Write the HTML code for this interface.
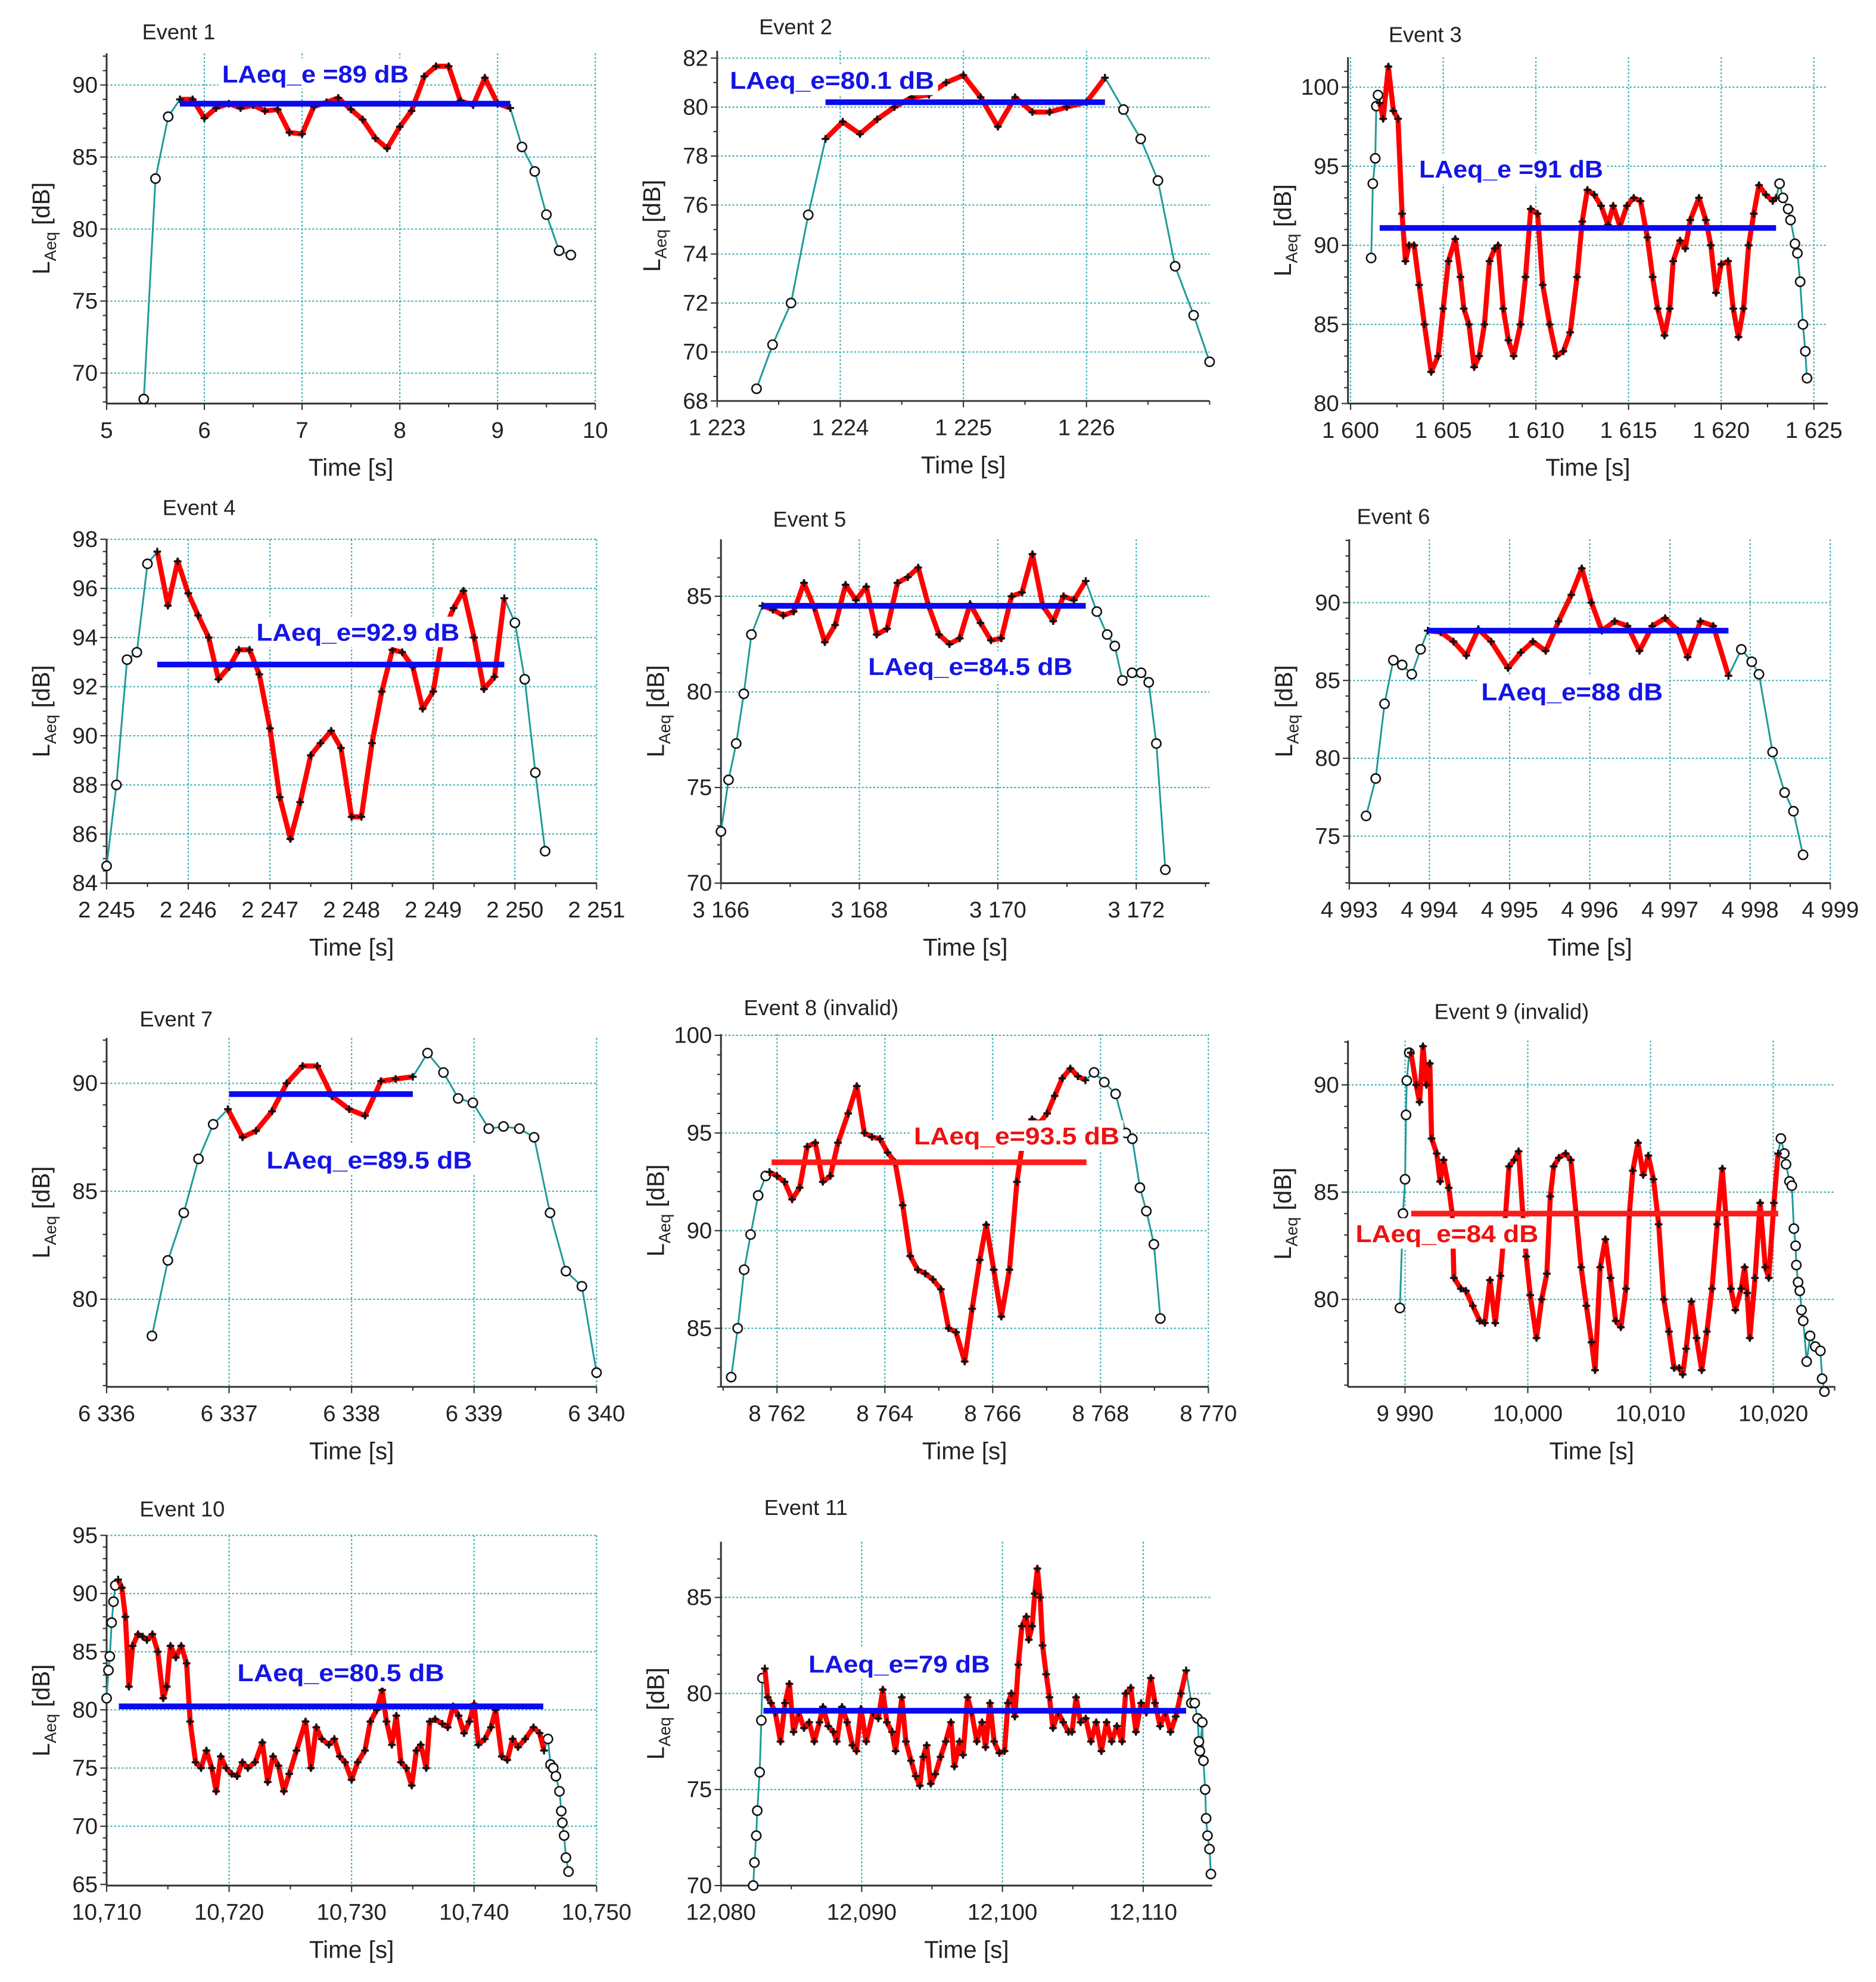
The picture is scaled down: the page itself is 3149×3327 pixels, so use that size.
<!DOCTYPE html>
<html><head><meta charset="utf-8"><style>
html,body{margin:0;padding:0;background:#fff;}
svg{display:block;font-family:"Liberation Sans",Arial,sans-serif;}
</style></head><body>
<svg id="fig" xmlns="http://www.w3.org/2000/svg" width="3149" height="3327" viewBox="0 0 1478 1562" preserveAspectRatio="none">
<rect width="1478" height="1562" fill="#fff"/>
</svg>
<script>
// ---------- DATA ----------
const e1Time=[5.38,5.5,5.63,5.75,5.88,6.0,6.12,6.25,6.37,6.5,6.62,6.75,6.87,7.0,7.12,7.25,7.37,7.5,7.62,7.75,7.87,8.0,8.12,8.25,8.37,8.5,8.62,8.75,8.87,9.0,9.13,9.25,9.38,9.5,9.63,9.75];
const e1Level=[68.2,83.5,87.8,89,89,87.7,88.4,88.7,88.4,88.6,88.2,88.3,86.7,86.6,88.5,88.8,89.1,88.3,87.6,86.3,85.6,87.1,88.2,90.6,91.3,91.3,88.9,88.6,90.5,88.7,88.4,85.7,84,81,78.5,78.2];
const e1Red=[5.75,9.13], e1Leq=[88.7,5.75,9.13];
const e1XTicks=[5,6,7,8,9,10], e1XLabels=["5","6","7","8","9","10"];
const e1YTicks=[70,75,80,85,90];

const e2Time=[1223.32,1223.45,1223.6,1223.74,1223.88,1224.02,1224.16,1224.3,1224.44,1224.58,1224.72,1224.86,1225.0,1225.14,1225.28,1225.42,1225.56,1225.7,1225.84,1226.0,1226.15,1226.3,1226.44,1226.58,1226.72,1226.87,1227.0];
const e2Level=[68.5,70.3,72,75.6,78.7,79.4,78.9,79.5,80,80.4,80.5,81,81.3,80.4,79.2,80.4,79.8,79.8,80,80.2,81.2,79.9,78.7,77,73.5,71.5,69.6];
const e2Red=[1223.88,1226.15], e2Leq=[80.2,1223.88,1226.15];
const e2XTicks=[1223,1224,1225,1226], e2XLabels=["1 223","1 224","1 225","1 226"];
const e2YTicks=[68,70,72,74,76,78,80,82];

const e3Time=[1601.11,1601.2,1601.33,1601.39,1601.48,1601.57,1601.76,1602.04,1602.31,1602.56,1602.78,1602.96,1603.15,1603.43,1603.7,1603.98,1604.35,1604.72,1605.0,1605.28,1605.65,1605.93,1606.11,1606.39,1606.67,1606.94,1607.22,1607.5,1607.78,1607.96,1608.24,1608.52,1608.8,1609.17,1609.44,1609.72,1610.09,1610.37,1610.74,1611.11,1611.48,1611.85,1612.22,1612.5,1612.78,1613.15,1613.52,1613.89,1614.17,1614.54,1614.91,1615.28,1615.65,1616.02,1616.3,1616.57,1616.94,1617.22,1617.41,1617.78,1618.06,1618.33,1618.8,1619.17,1619.44,1619.72,1620.0,1620.37,1620.65,1620.93,1621.2,1621.48,1621.76,1622.04,1622.41,1622.78,1622.96,1623.15,1623.33,1623.61,1623.74,1623.98,1624.11,1624.26,1624.41,1624.54,1624.63];
const e3Level=[89.2,93.9,95.5,98.8,99.5,99,98,101.3,98.5,98,92,89,90,90,87.5,85,82,83,86,89,90.4,88,86,85,82.3,83,85,89,89.8,90,86,84,83,85,88,92.3,92,87.5,85,83,83.3,84.5,88,91.5,93.5,93.2,92.5,91.3,92.5,91.2,92.5,93,92.8,90.5,88,86,84.3,86,89,90.3,89.8,91.6,93,91.6,90,87,88.8,89,86,84.2,86,90,92,93.8,93.2,92.8,93,93.9,93,92.3,91.6,90.1,89.5,87.7,85,83.3,81.6];
const e3Red=[1601.57,1622.96], e3Leq=[91.1,1601.57,1622.96];
const e3XTicks=[1600,1605,1610,1615,1620,1625], e3XLabels=["1 600","1 605","1 610","1 615","1 620","1 625"];
const e3YTicks=[80,85,90,95,100];

const e4Time=[2245.0,2245.12,2245.25,2245.37,2245.5,2245.62,2245.75,2245.87,2246.0,2246.12,2246.25,2246.37,2246.5,2246.62,2246.75,2246.87,2247.0,2247.12,2247.25,2247.37,2247.5,2247.62,2247.75,2247.87,2248.0,2248.12,2248.25,2248.37,2248.5,2248.62,2248.75,2248.87,2249.0,2249.12,2249.25,2249.37,2249.5,2249.62,2249.75,2249.87,2250.0,2250.12,2250.25,2250.37];
const e4Level=[84.7,88,93.1,93.4,97,97.5,95.3,97.1,95.8,94.9,94,92.3,92.8,93.5,93.5,92.5,90.3,87.5,85.8,87.3,89.2,89.7,90.2,89.5,86.7,86.7,89.7,91.8,93.5,93.4,92.8,91.1,91.8,94.2,95.2,95.9,94,91.9,92.4,95.6,94.6,92.3,88.5,85.3];
const e4Red=[2245.62,2249.87], e4Leq=[92.9,2245.62,2249.87];
const e4XTicks=[2245,2246,2247,2248,2249,2250,2251], e4XLabels=["2 245","2 246","2 247","2 248","2 249","2 250","2 251"];
const e4YTicks=[84,86,88,90,92,94,96,98];

const e5Time=[3166.0,3166.11,3166.22,3166.33,3166.44,3166.6,3166.75,3166.9,3167.05,3167.2,3167.35,3167.5,3167.65,3167.8,3167.95,3168.1,3168.25,3168.4,3168.55,3168.7,3168.85,3169.0,3169.15,3169.3,3169.45,3169.6,3169.75,3169.9,3170.05,3170.2,3170.35,3170.5,3170.65,3170.8,3170.95,3171.1,3171.27,3171.43,3171.58,3171.69,3171.8,3171.94,3172.07,3172.18,3172.29,3172.42];
const e5Level=[72.7,75.4,77.3,79.9,83,84.5,84.3,84,84.2,85.7,84.4,82.6,83.5,85.6,84.8,85.5,83,83.3,85.7,86,86.5,84.5,83,82.5,82.8,84.6,83.6,82.7,82.8,85,85.2,87.2,84.5,83.7,85,84.8,85.8,84.2,83,82.4,80.6,81,81,80.5,77.3,70.7];
const e5Red=[3166.6,3171.27], e5Leq=[84.5,3166.6,3171.27];
const e5XTicks=[3166,3168,3170,3172], e5XLabels=["3 166","3 168","3 170","3 172"];
const e5YTicks=[70,75,80,85];

const e6Time=[4993.21,4993.33,4993.44,4993.55,4993.66,4993.78,4993.89,4993.98,4994.14,4994.3,4994.46,4994.61,4994.77,4994.98,4995.14,4995.29,4995.45,4995.61,4995.77,4995.9,4996.02,4996.15,4996.31,4996.47,4996.62,4996.78,4996.94,4997.1,4997.22,4997.38,4997.54,4997.73,4997.89,4998.02,4998.11,4998.28,4998.43,4998.54,4998.66];
const e6Level=[76.3,78.7,83.5,86.3,86,85.4,87,88.2,88.1,87.5,86.6,88.3,87.5,85.8,86.8,87.5,86.9,88.8,90.5,92.2,90,88.2,88.8,88.5,86.9,88.5,89,88.2,86.5,88.8,88.5,85.3,87,86.2,85.4,80.4,77.8,76.6,73.8];
const e6Red=[4993.98,4997.73], e6Leq=[88.2,4993.98,4997.73];
const e6XTicks=[4993,4994,4995,4996,4997,4998,4999], e6XLabels=["4 993","4 994","4 995","4 996","4 997","4 998","4 999"];
const e6YTicks=[75,80,85,90];

const e7Time=[6336.37,6336.5,6336.63,6336.75,6336.87,6336.99,6337.11,6337.22,6337.35,6337.47,6337.6,6337.72,6337.84,6337.98,6338.11,6338.24,6338.36,6338.5,6338.62,6338.75,6338.87,6338.99,6339.12,6339.24,6339.37,6339.49,6339.62,6339.75,6339.88,6340.0];
const e7Level=[78.3,81.8,84,86.5,88.1,88.8,87.5,87.8,88.7,90,90.8,90.8,89.4,88.8,88.5,90.1,90.2,90.3,91.4,90.5,89.3,89.1,87.9,88,87.9,87.5,84,81.3,80.6,76.6];
const e7Red=[6336.99,6338.5], e7Leq=[89.5,6337.0,6338.5];
const e7XTicks=[6336,6337,6338,6339,6340], e7XLabels=["6 336","6 337","6 338","6 339","6 340"];
const e7YTicks=[80,85,90];

const e8Time=[8761.15,8761.27,8761.39,8761.51,8761.65,8761.79,8761.86,8762.0,8762.14,8762.28,8762.42,8762.56,8762.71,8762.85,8762.99,8763.13,8763.32,8763.48,8763.62,8763.76,8763.91,8764.05,8764.19,8764.33,8764.47,8764.61,8764.75,8764.89,8765.04,8765.18,8765.32,8765.48,8765.62,8765.76,8765.88,8766.02,8766.16,8766.31,8766.45,8766.59,8766.73,8766.87,8767.01,8767.15,8767.29,8767.44,8767.58,8767.72,8767.88,8768.07,8768.28,8768.47,8768.59,8768.73,8768.85,8768.99,8769.11];
const e8Level=[82.5,85,88,89.8,91.8,92.8,93,92.8,92.5,91.6,92.2,94.3,94.5,92.5,92.8,94.5,96,97.4,95,94.8,94.7,94,93.5,91.3,88.7,88,87.8,87.5,87,85,84.8,83.3,86,88.5,90.3,88,85.6,88,92.5,95.2,95.7,95.5,96,96.9,97.8,98.3,97.9,97.7,98.1,97.6,97,95,94.7,92.2,91,89.3,85.5];
const e8Red=[8761.86,8767.72], e8Leq=[93.5,8761.9,8767.74];
const e8XTicks=[8762,8764,8766,8768,8770], e8XLabels=["8 762","8 764","8 766","8 768","8 770"];
const e8YTicks=[85,90,95,100];

const e9Time=[9989.58,9989.83,9990.0,9990.08,9990.14,9990.34,9990.48,9990.9,9991.18,9991.46,9991.74,9992.02,9992.16,9992.58,9992.86,9993.14,9993.56,9993.84,9993.98,9994.54,9994.96,9995.52,9996.08,9996.5,9996.92,9997.35,9997.77,9998.19,9998.47,9998.89,9999.25,9999.59,9999.87,10000.2,10000.71,10001.13,10001.55,10001.83,10002.11,10002.53,10003.09,10003.51,10003.93,10004.35,10004.77,10005.19,10005.48,10005.9,10006.32,10006.74,10007.16,10007.58,10008.0,10008.28,10008.56,10008.98,10009.4,10009.82,10010.24,10010.66,10011.08,10011.5,10011.92,10012.34,10012.62,10012.9,10013.33,10013.75,10014.17,10014.59,10015.01,10015.43,10015.85,10016.13,10016.55,10016.91,10017.39,10017.67,10017.87,10018.09,10018.51,10018.93,10019.35,10019.63,10020.05,10020.39,10020.62,10020.9,10021.04,10021.32,10021.51,10021.68,10021.82,10021.88,10022.02,10022.16,10022.3,10022.44,10022.72,10023.0,10023.42,10023.84,10023.98,10024.17];
const e9Level=[79.6,84,85.6,88.6,90.2,91.5,91.5,90,89.2,91.8,90,91,87.5,86.8,85.5,86.5,85.2,84,81,80.5,80.4,79.7,79,78.9,80.9,78.9,81.1,84,86.2,86.5,86.9,84,82,80.2,78.2,80,81.2,84.8,86.2,86.6,86.8,86.5,84,81.5,79.7,78,76.7,81.5,82.8,81,79,78.7,80.5,84,86,87.3,85.8,86.7,85.6,83.5,80,78.5,76.8,76.8,76.5,77.7,79.9,78.2,76.7,78.5,80.5,83.5,86.1,84,80.5,79.5,80.5,81.5,80.3,78.2,81,84.5,81.5,81,84.5,86.8,87.5,86.8,86.3,85.5,85.3,83.3,82.5,81.6,80.8,80.4,79.5,79,77.1,78.3,77.8,77.6,76.3,75.7];
const e9Red=[9990.48,10020.39], e9Leq=[84,9990.5,10020.4];
const e9XTicks=[9990,10000,10010,10020], e9XLabels=["9 990","10,000","10,010","10,020"];
const e9YTicks=[80,85,90];

const e10Time=[10710.0,10710.15,10710.26,10710.41,10710.56,10710.71,10710.94,10711.24,10711.53,10711.82,10712.12,10712.56,10712.94,10713.29,10713.74,10714.18,10714.62,10714.91,10715.21,10715.65,10716.09,10716.53,10716.82,10717.26,10717.71,10718.15,10718.59,10718.94,10719.32,10719.76,10720.21,10720.65,10721.09,10721.53,10722.12,10722.71,10723.15,10723.59,10724.03,10724.47,10724.91,10725.5,10726.24,10726.68,10727.12,10727.56,10728.15,10728.59,10729.03,10729.47,10730.0,10730.5,10731.09,10731.53,10732.06,10732.5,10732.85,10733.29,10733.65,10734.03,10734.47,10734.91,10735.29,10735.65,10736.09,10736.38,10736.82,10737.41,10737.85,10738.29,10738.74,10739.18,10739.62,10740.0,10740.35,10740.88,10741.38,10741.76,10742.26,10742.71,10743.15,10743.59,10744.18,10744.85,10745.35,10745.71,10746.03,10746.24,10746.47,10746.68,10746.97,10747.12,10747.21,10747.35,10747.5,10747.71];
const e10Level=[81,83.4,84.6,87.5,89.3,90.7,91.2,90.5,88,82,85.5,86.5,86.3,86,86.5,85,81,82,85.5,84.5,85.5,84,79,75.5,75,76.5,75,73,76,75,74.5,74.3,75.5,75,75.5,77.2,73.8,76,75.2,73,74.5,76.5,79,75,78.5,77.5,77,77.5,76,75.5,74,75.5,76.5,79,80,81.7,79,77,79.5,75.5,75,73.5,76.5,77,75,79,79.2,78.8,78.5,80.3,79.5,78,79,80.5,77,77.5,78.5,80,76,75.7,77.5,76.8,77.5,78.5,78,76.5,77.5,75.3,75,74.3,73,71.3,70.3,69.2,67.3,66.1];
const e10Red=[10710.94,10745.71], e10Leq=[80.3,10711.0,10745.65];
const e10XTicks=[10710,10720,10730,10740,10750], e10XLabels=["10,710","10,720","10,730","10,740","10,750"];
const e10YTicks=[65,70,75,80,85,90,95];

const e11Time=[12082.29,12082.38,12082.51,12082.58,12082.75,12082.87,12082.95,12083.12,12083.32,12083.56,12083.86,12084.23,12084.55,12084.86,12085.16,12085.53,12085.9,12086.27,12086.63,12087.0,12087.25,12087.62,12087.99,12088.23,12088.6,12088.97,12089.34,12089.63,12089.95,12090.32,12090.81,12091.18,12091.5,12091.79,12092.16,12092.41,12092.85,12093.14,12093.51,12093.83,12094.13,12094.37,12094.62,12094.91,12095.23,12095.6,12095.97,12096.34,12096.58,12096.95,12097.2,12097.52,12097.81,12098.18,12098.55,12098.8,12099.12,12099.41,12099.78,12100.15,12100.39,12100.64,12100.88,12101.13,12101.38,12101.7,12101.87,12102.11,12102.29,12102.48,12102.68,12102.85,12103.1,12103.34,12103.59,12103.96,12104.32,12104.69,12104.94,12105.23,12105.55,12105.92,12106.29,12106.66,12107.03,12107.4,12107.76,12108.13,12108.5,12108.75,12109.12,12109.48,12109.85,12110.22,12110.54,12110.84,12111.2,12111.57,12111.94,12112.31,12112.68,12113.05,12113.42,12113.66,12113.86,12113.96,12114.03,12114.2,12114.28,12114.4,12114.47,12114.57,12114.71,12114.81];
const e11Level=[70,71.2,72.6,73.9,75.9,78.6,80.8,81.3,79.8,79.5,79,77.5,79.5,80.5,78,79,78.2,78.5,77.5,78.5,79.3,78.3,78,77.5,79.3,78.5,77.3,77,79.2,77.5,79,78.7,80.2,78.5,78,77,79.8,77.5,76.5,75.7,75.2,76.7,77.3,75.3,75.8,76.7,77.5,78.5,76.2,77.5,76.8,79.8,79,77.5,78.5,77.2,79.5,77.5,76.9,77,79.5,80,78.8,81.5,83.5,84,82.8,83.5,85.2,86.5,85,82.5,81,79.8,78.2,79,78.5,78,78,79.8,78.5,78.7,77.5,78.5,77,78.5,77.5,78.3,77.5,80,80.3,78,79.5,79,80.8,79.5,78.3,79,78,78.8,80,81.2,79.5,79.5,78.7,77.5,77,78.5,76.5,75,73.5,72.6,71.9,70.6];
const e11Red=[12083.12,12113.05], e11Leq=[79.1,12083.02,12113.05];
const e11XTicks=[12080,12090,12100,12110], e11XLabels=["12,080","12,090","12,100","12,110"];
const e11YTicks=[70,75,80,85];

// ---------- LAYOUT (pixel boxes, not data) ----------
const layouts=[
 {id:1,title:"Event 1",tx:112,ty:31,L:84,R:469,T:42,B:318,x0:5,x1:10,y0:67.89,y1:92.2,lab:"LAeq_e =89 dB",lx:175,ly:58,lw:147,lc:"#1414e6",minX:0.5,minY:1},
 {id:2,title:"Event 2",tx:598,ty:27,L:565,R:953,T:40,B:316,x0:1223,x1:1227,y0:68,y1:82.3,lab:"LAeq_e=80.1 dB",lx:575,ly:63,lw:161,lc:"#1414e6",minX:0.5,minY:1},
 {id:3,title:"Event 3",tx:1094,ty:33,L:1062,R:1440,T:45,B:318,x0:1599.86,x1:1625.75,y0:80,y1:101.9,lab:"LAeq_e =91 dB",lx:1118,ly:133,lw:145,lc:"#1414e6",minX:2.5,minY:1},
 {id:4,title:"Event 4",tx:128,ty:406,L:84,R:470,T:425,B:696,x0:2245,x1:2251,y0:84,y1:98,lab:"LAeq_e=92.9 dB",lx:202,ly:498,lw:160,lc:"#1414e6",minX:0.5,minY:0.5},
 {id:5,title:"Event 5",tx:609,ty:415,L:568,R:953,T:425,B:696,x0:3166,x1:3173.06,y0:70,y1:87.98,lab:"LAeq_e=84.5 dB",lx:684,ly:525,lw:161,lc:"#1414e6",minX:1,minY:1},
 {id:6,title:"Event 6",tx:1069,ty:413,L:1063,R:1442,T:425,B:696,x0:4993,x1:4999,y0:71.98,y1:94.07,lab:"LAeq_e=88 dB",lx:1167,ly:545,lw:143,lc:"#1414e6",minX:0.5,minY:1},
 {id:7,title:"Event 7",tx:110,ty:809,L:84,R:470,T:818,B:1093,x0:6336,x1:6340,y0:75.94,y1:92.1,lab:"LAeq_e=89.5 dB",lx:210,ly:914,lw:162,lc:"#1414e6",minX:0.5,minY:1},
 {id:8,title:"Event 8 (invalid)",tx:586,ty:800,L:568,R:952,T:815,B:1093,x0:8760.96,x1:8770,y0:82,y1:100.06,lab:"LAeq_e=93.5 dB",lx:720,ly:895,lw:162,lc:"#ee1111",minX:1,minY:1},
 {id:9,title:"Event 9 (invalid)",tx:1130,ty:803,L:1062,R:1446,T:820,B:1093,x0:9985.35,x1:10025.06,y0:75.92,y1:92.07,lab:"LAeq_e=84 dB",lx:1068,ly:972,lw:144,lc:"#ee1111",minX:5,minY:1},
 {id:10,title:"Event 10",tx:110,ty:1195,L:84,R:470,T:1210,B:1486,x0:10710,x1:10750,y0:64.9,y1:95,lab:"LAeq_e=80.5 dB",lx:187,ly:1318,lw:163,lc:"#1414e6",minX:5,minY:1},
 {id:11,title:"Event 11",tx:602,ty:1194,L:568,R:955,T:1215,B:1486,x0:12080,x1:12114.9,y0:70,y1:87.9,lab:"LAeq_e=79 dB",lx:637,ly:1311,lw:143,lc:"#1414e6",minX:5,minY:1}
];
const series={
 1:[e1Time,e1Level,e1Red,e1Leq,e1XTicks,e1XLabels,e1YTicks],
 2:[e2Time,e2Level,e2Red,e2Leq,e2XTicks,e2XLabels,e2YTicks],
 3:[e3Time,e3Level,e3Red,e3Leq,e3XTicks,e3XLabels,e3YTicks],
 4:[e4Time,e4Level,e4Red,e4Leq,e4XTicks,e4XLabels,e4YTicks],
 5:[e5Time,e5Level,e5Red,e5Leq,e5XTicks,e5XLabels,e5YTicks],
 6:[e6Time,e6Level,e6Red,e6Leq,e6XTicks,e6XLabels,e6YTicks],
 7:[e7Time,e7Level,e7Red,e7Leq,e7XTicks,e7XLabels,e7YTicks],
 8:[e8Time,e8Level,e8Red,e8Leq,e8XTicks,e8XLabels,e8YTicks],
 9:[e9Time,e9Level,e9Red,e9Leq,e9XTicks,e9XLabels,e9YTicks],
 10:[e10Time,e10Level,e10Red,e10Leq,e10XTicks,e10XLabels,e10YTicks],
 11:[e11Time,e11Level,e11Red,e11Leq,e11XTicks,e11XLabels,e11YTicks]
};

const NS="http://www.w3.org/2000/svg";
const svg=document.getElementById('fig');
function mk(tag,attrs,parent){const e=document.createElementNS(NS,tag);for(const k in attrs)e.setAttribute(k,attrs[k]);parent.appendChild(e);return e;}

layouts.forEach(c=>{
 const [T,V,red,leq,xt,xl,yt]=series[c.id];
 const sx=t=>c.L+(t-c.x0)/(c.x1-c.x0)*(c.R-c.L);
 const sy=v=>c.B-(v-c.y0)/(c.y1-c.y0)*(c.B-c.T);
 const g=mk('g',{},svg);
 
 
 // grid
 const grid=mk('g',{stroke:'#3cb0b0','stroke-width':1,'stroke-dasharray':'1.5 1.5',fill:'none'},g);
 
 
 xt.forEach(t=>{const x=sx(t);if(x>c.L+2&&x<=c.R+1)mk('line',{x1:x,x2:x,y1:c.T,y2:c.B},grid);});
 yt.forEach(v=>{const y=sy(v);if(y<c.B-2)mk('line',{x1:c.L,x2:c.R,y1:y,y2:y},grid);});
 // axes
 const ax=mk('g',{stroke:'#333','stroke-width':1.4,fill:'none'},g);
 
 
 mk('line',{x1:c.L,x2:c.R,y1:c.B,y2:c.B},ax);
 mk('line',{x1:c.L,x2:c.L,y1:c.T,y2:c.B},ax);
 for(let t=Math.ceil(c.x0/c.minX)*c.minX;t<=c.x1+1e-6;t+=c.minX){const x=sx(t);const maj=xt.some(k=>Math.abs(k-t)<1e-6);mk('line',{x1:x,x2:x,y1:c.B,y2:c.B+(maj?5:3),'stroke-width':1},ax);}
 for(let v=Math.ceil(c.y0/c.minY)*c.minY;v<=c.y1+1e-6;v+=c.minY){const y=sy(v);const maj=yt.some(k=>Math.abs(k-v)<1e-6);mk('line',{x1:c.L,x2:c.L-(maj?5:3),y1:y,y2:y,'stroke-width':1},ax);}
 // tick labels
 xt.forEach((t,i)=>{const tx=mk('text',{x:sx(t),y:c.B+27,'font-size':18,'text-anchor':'middle',fill:'#222'},g);tx.textContent=xl[i];
  
  });
 yt.forEach(v=>{const ty=mk('text',{x:c.L-7,y:sy(v)+6,'font-size':18,'text-anchor':'end',fill:'#222'},g);ty.textContent=String(v);
  
  });
 // axis titles
 const xtl=mk('text',{x:(c.L+c.R)/2,y:c.B+57,'font-size':19,'text-anchor':'middle',fill:'#222'},g);xtl.textContent='Time [s]';
 
 
 const ytl=mk('text',{x:0,y:0,'font-size':19,'text-anchor':'middle',fill:'#222',transform:`translate(${c.L-45},${(c.T+c.B)/2}) rotate(-90)`},g);
 ytl.innerHTML='L<tspan font-size="13" dy="5">Aeq</tspan><tspan dy="-5">  [dB]</tspan>';
 
 
 // title
 const ti=mk('text',{x:c.tx,y:c.ty,'font-size':17,fill:'#222'},g);ti.textContent=c.title;
 
 
 // teal full line
 const pts=T.map((t,i)=>sx(t).toFixed(1)+','+sy(V[i]).toFixed(1)).join(' ');
 const tl=mk('polyline',{points:pts,fill:'none',stroke:'#1f9a9a','stroke-width':1.4},g);
 
 
 T.forEach((t,i)=>{if(t<red[0]-1e-6||t>red[1]+1e-6){const ci=mk('circle',{cx:sx(t),cy:sy(V[i]),r:3.6,fill:'#fff',stroke:'#111','stroke-width':1.2},g);
  
  }});
 // red segment
 const rp=[];T.forEach((t,i)=>{if(t>=red[0]-1e-6&&t<=red[1]+1e-6)rp.push([sx(t),sy(V[i])]);});
 const rl=mk('polyline',{points:rp.map(p=>p[0].toFixed(1)+','+p[1].toFixed(1)).join(' '),fill:'none',stroke:'#ff0000','stroke-width':4,'stroke-linejoin':'round'},g);
 
 
 const mg=mk('g',{stroke:'#111','stroke-width':1.6},g);
 
 
 rp.forEach(p=>{mk('line',{x1:p[0]-3,x2:p[0]+3,y1:p[1],y2:p[1]},mg);mk('line',{x1:p[0],x2:p[0],y1:p[1]-3,y2:p[1]+3},mg);});
 // leq line
 const ll=mk('line',{x1:sx(leq[1]),x2:sx(leq[2]),y1:sy(leq[0]),y2:sy(leq[0]),stroke:c.lc==='#ee1111'?'#ff1a1a':'#0a0aee','stroke-width':4.5},g);
 
 
 // label
 mk('rect',{x:c.lx-3,y:c.ly-12,width:c.lw+6,height:24,fill:'#fff'},g);
 const lb=mk('text',{x:c.lx,y:c.ly+7,'font-size':19,'font-weight':'bold',fill:c.lc,textLength:c.lw,lengthAdjust:'spacingAndGlyphs'},g);
 lb.textContent=c.lab;
 
 
});
</script>
</body></html>
